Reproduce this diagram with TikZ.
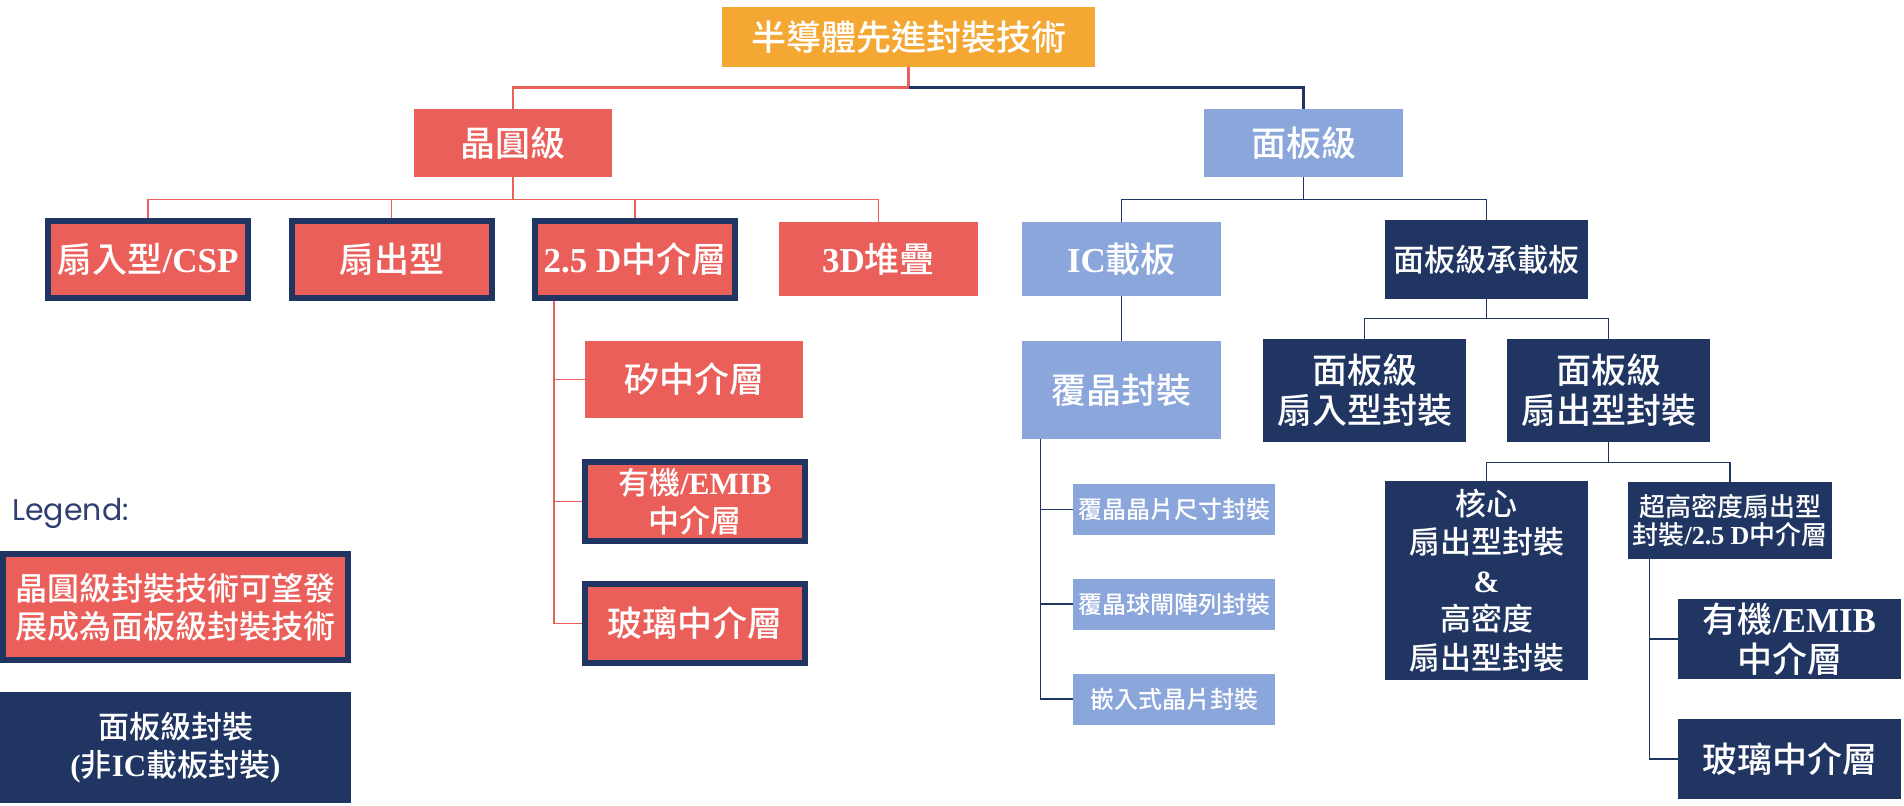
\documentclass[tikz,border=0pt]{standalone}
\usepackage{fontspec}
\setmainfont{Noto Sans CJK TC}[BoldFont={Noto Sans CJK TC Medium}]
\newfontfamily\romanfont{Liberation Serif}
\newfontfamily\legendfont{Poppins}
\newcommand{\rmb}[1]{{\romanfont\bfseries #1}}

\definecolor{rootorange}{HTML}{F5A733}
\definecolor{waferred}{HTML}{EB5F5A}
\definecolor{panelblue}{HTML}{8BA6DA}
\definecolor{panelnavy}{HTML}{203562}
\definecolor{legendnavy}{HTML}{2F3E6E}

\tikzset{
  box/.style={rectangle, inner sep=0pt, align=center, text=white},
  wh/.style 2 args={minimum width=#1*0.5pt, minimum height=#2*0.5pt},
  orangebox/.style={box, fill=rootorange},
  redbox/.style={box, fill=waferred},
  bluebox/.style={box, fill=panelblue},
  navybox/.style={box, fill=panelnavy},
  rimbox/.style={redbox, draw=panelnavy, line width=3pt},
  fsbig/.style={font=\fontsize{17.5}{20}\selectfont\bfseries},
  fsmid/.style={font=\fontsize{15.5}{19.25}\selectfont\bfseries},
  fsleg/.style={font=\fontsize{16}{19}\selectfont\bfseries},
  fsuhd/.style={font=\fontsize{13}{14}\selectfont\bfseries},
  fssmall/.style={font=\fontsize{12}{14}\selectfont\bfseries},
  redline/.style={draw=waferred, line width=0.8pt},
  navyline/.style={draw=panelnavy, line width=0.8pt}
}

\begin{document}
\begin{tikzpicture}[x=0.5pt, y=-0.5pt]

\useasboundingbox (0,0) rectangle (1904,805);

% Top levels
\node[orangebox, wh={373}{60}, fsbig] (root) at (908.5,37) {半導體先進封裝技術};
\node[redbox, wh={198}{68}, fsbig] (wafer) at (513,143) {晶圓級};
\node[bluebox, wh={199}{68}, fsbig] (panel) at (1303.5,143) {面板級};

% Wafer level
\node[rimbox, wh={200}{77}, fsbig] (fanin) at (148,259.5) {扇入型\rmb{/CSP}};
\node[rimbox, wh={200}{77}, fsbig] (fanout) at (391.5,259.5) {扇出型};
\node[rimbox, wh={200}{77}, fsbig] (d25) at (635,259.5) {\rmb{2.5 D}中介層};
\node[redbox, wh={199}{74}, fsbig] (d3) at (878.5,259) {\rmb{3D}堆疊};

% Interposers
\node[redbox, wh={218}{77}, fsbig] (si) at (694,379.5) {矽中介層};
\node[rimbox, wh={220}{79}, fsmid] (org) at (695,501.5) {有機\rmb{/EMIB}\\中介層};
\node[rimbox, wh={220}{79}, fsbig] (glass) at (695,623.5) {玻璃中介層};

% Panel level
\node[bluebox, wh={199}{74}, fsbig] (ic) at (1121.5,259) {\rmb{IC}載板};
\node[navybox, wh={203}{79}, fsmid] (carrier) at (1486.5,259.5) {面板級承載板};
\node[bluebox, wh={199}{98}, fsbig] (fc) at (1121.5,390) {覆晶封裝};
\foreach \n/\y/\t in {fccsp/509.5/覆晶晶片尺寸封裝, fcbga/604/覆晶球閘陣列封裝, embed/699/嵌入式晶片封裝}
  \node[bluebox, wh={202}{51}, fssmall] (\n) at (1174,\y) {\t};
\node[navybox, wh={203}{103}, fsbig] (pfi) at (1364.5,390.5) {面板級\\扇入型封裝};
\node[navybox, wh={203}{103}, fsbig] (pfo) at (1608.5,390.5) {面板級\\扇出型封裝};
\node[navybox, wh={203}{199}, fsmid] (core) at (1486.5,580.5) {核心\\扇出型封裝\\\rmb{\&}\\高密度\\扇出型封裝};
\node[navybox, wh={204}{77}, fsuhd] (uhd) at (1730,520.5) {超高密度扇出型\\封裝\rmb{/2.5 D}中介層};
\node[navybox, wh={223}{80}, fsbig] (org2) at (1789.5,639) {有機\rmb{/EMIB}\\中介層};
\node[navybox, wh={223}{80}, fsbig] (glass2) at (1789.5,759) {玻璃中介層};

% Legend
\node[text=legendnavy, font=\legendfont\fontsize{15}{17}\selectfont, anchor=west, inner sep=0pt] (legend) at (12,513) {Legend:};
\node[rimbox, wh={345}{106}, fsleg] (legwafer) at (175.5,607) {晶圓級封裝技術可望發\\展成為面板級封裝技術};
\node[navybox, wh={351}{111}, fsmid] (legpanel) at (175.5,747.5) {面板級封裝\\\rmb{(}非\rmb{IC}載板封裝\rmb{)}};

% Connectors
\draw[redline, line width=1.1pt] (root.south) -- ++(0,20) -| (wafer.north);
\draw[navyline, line width=1.1pt] ([yshift=-10pt]root.south) -| (panel.north);
\foreach \n in {fanin,fanout,d25,d3}
  \draw[redline] (wafer.south) -- ++(0,22) -| (\n.north);
\foreach \n in {si,org,glass}
  \draw[redline] (d25.south west) ++(22,0) |- (\n.west);
\foreach \n in {ic,carrier}
  \draw[navyline] (panel.south) -- ++(0,22) -| (\n.north);
\draw[navyline] (ic.south) -- (fc.north);
\foreach \n in {fccsp,fcbga,embed}
  \draw[navyline] (fc.south west) ++(19,0) |- (\n.west);
\foreach \n in {pfi,pfo}
  \draw[navyline] (carrier.south) -- ++(0,19) -| (\n.north);
\foreach \n in {core,uhd}
  \draw[navyline] (pfo.south) -- ++(0,20) -| (\n.north);
\foreach \n in {org2,glass2}
  \draw[navyline] (uhd.south west) ++(22,0) |- (\n.west);

\end{tikzpicture}
\end{document}
